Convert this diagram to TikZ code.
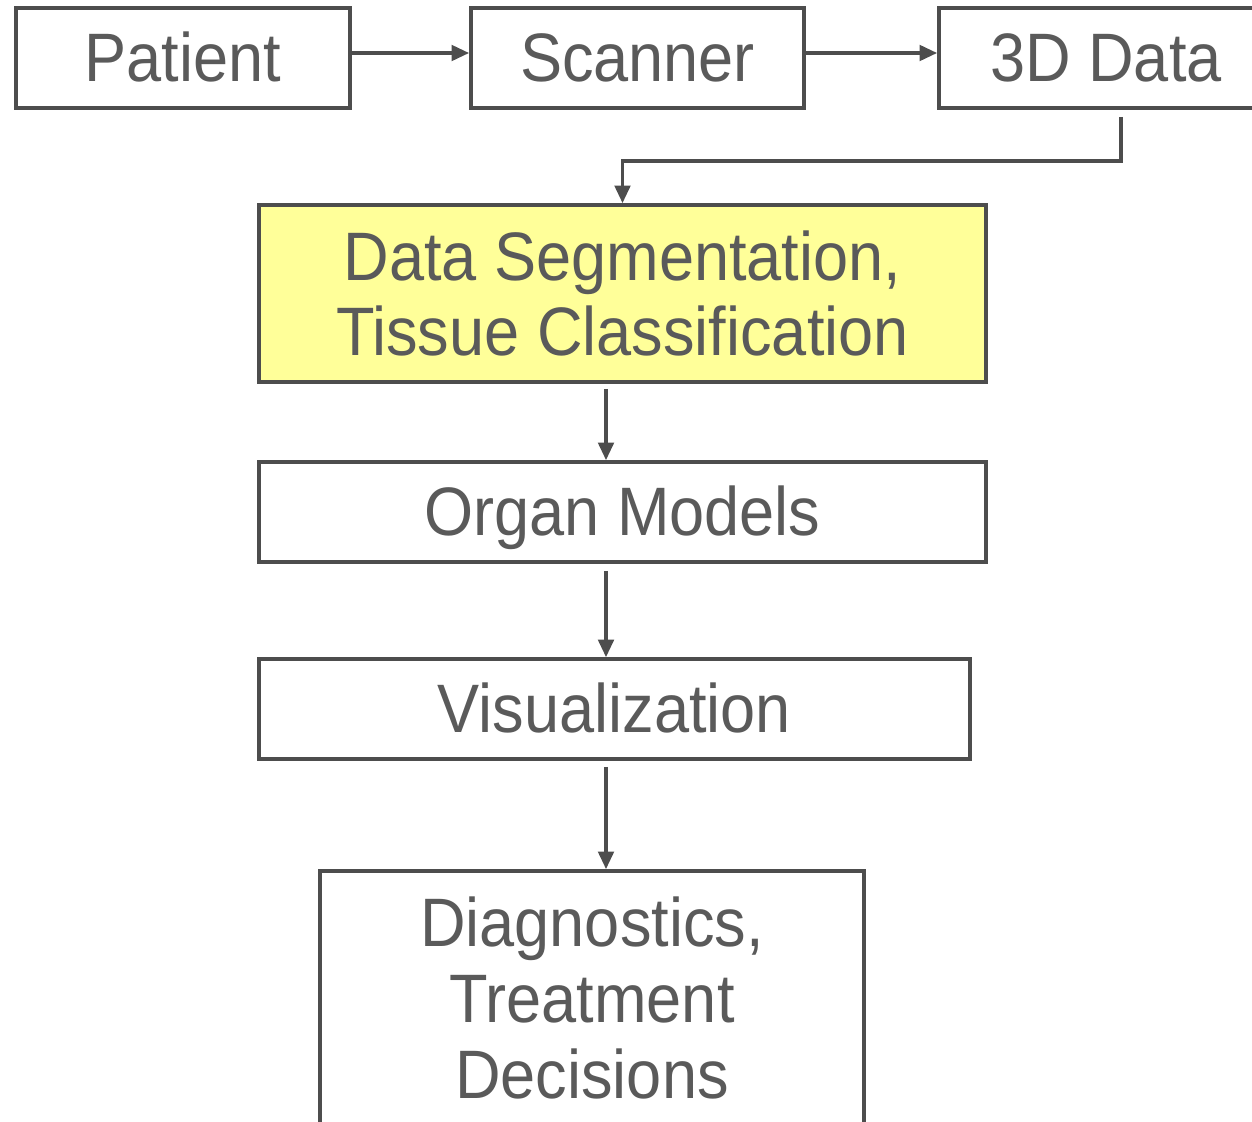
\documentclass[tikz,border=0pt]{standalone}
\usepackage{fontspec}
\setmainfont{Liberation Sans}[FakeStretch=0.92]
\usetikzlibrary{arrows.meta, calc}
\definecolor{linegray}{HTML}{4D4D4D}
\definecolor{textgray}{HTML}{5A5A5A}
\definecolor{segyellow}{HTML}{FFFF99}

\begin{document}
\begin{tikzpicture}[x=0.01cm, y=-0.01cm,
	box/.style={draw=linegray, line width=1pt, text=textgray, inner sep=0pt,
		font=\fontsize{19.5}{21.5}\selectfont, align=center},
	oneline/.style={box, text height=13.6pt, text depth=0pt, minimum height=1cm},
	flow/.style={draw=linegray, line width=1pt, -{Triangle[length=5pt, width=4.4pt]}}]
	\useasboundingbox (0,0) rectangle (1252,1121);
	% acquisition row
	\node[oneline, minimum width=3.34cm] (patient) at (183,58) {Patient};
	\node[oneline, minimum width=3.33cm] (scanner) at (637.5,58) {Scanner};
	\node[oneline, minimum width=3.34cm] (data) at (1106,58) {3D Data};
	% processing chain
	\node[box, fill=segyellow, minimum width=7.27cm, minimum height=1.77cm] (seg) at (622.5,293.5)
		{Data Segmentation,\\Tissue Classification};
	\node[oneline, minimum width=7.27cm] (organ) at (622.5,512) {Organ Models};
	\node[oneline, minimum width=7.11cm] (vis) at (614.5,709) {Visualization};
	\node[box, minimum width=5.44cm, minimum height=2.54cm] (diag) at (592,998)
		{Diagnostics,\\Treatment\\Decisions};
	\coordinate (spine) at (606,0);
	% connectors
	\draw[flow] ($(patient.east)+(0,-5)$) -- ($(scanner.west)+(0,-5)$);
	\draw[flow] ($(scanner.east)+(0,-5)$) -- ($(data.west)+(0,-5)$);
	\draw[flow] ($(data.south)+(15,7)$) -- ++(0,44) -| (seg.north);
	\draw[flow] ($(seg.south -| spine)+(0,5)$) -- (organ.north -| spine);
	\draw[flow] ($(organ.south -| spine)+(0,7)$) -- (vis.north -| spine);
	\draw[flow] ($(vis.south -| spine)+(0,6)$) -- (diag.north -| spine);
\end{tikzpicture}
\end{document}
